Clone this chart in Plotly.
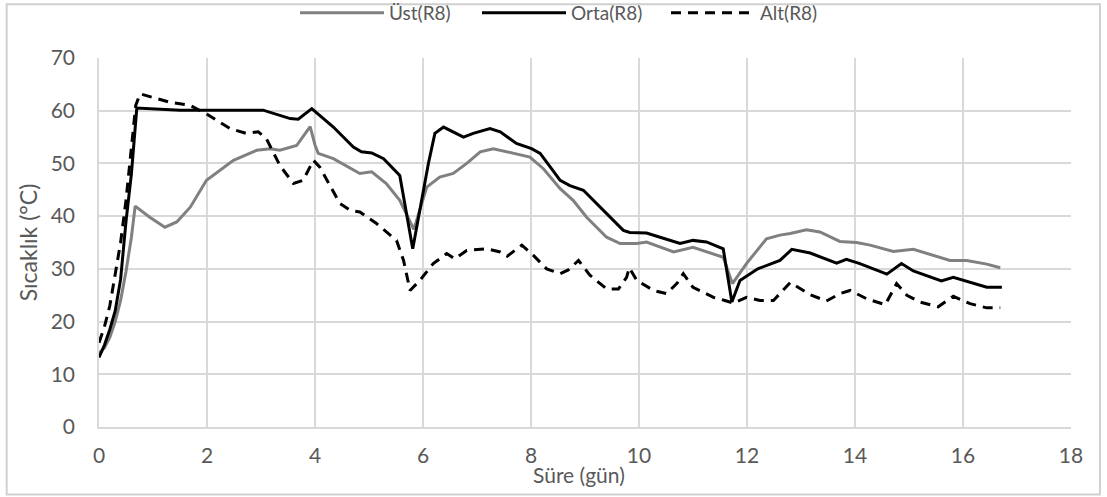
import plotly.graph_objects as go

# ---- data ----
ust_x = [0, 0.1, 0.2, 0.3, 0.4, 0.5, 0.6, 0.67, 0.94, 1.22, 1.44, 1.69, 1.99, 2.49, 2.92, 3.17, 3.35, 3.66, 3.91, 4.0,
         4.06, 4.34, 4.83, 5.05, 5.32, 5.57, 5.83, 6.07, 6.31, 6.56, 6.81, 7.06, 7.30, 7.67, 7.98, 8.23, 8.54,
         8.78, 9.03, 9.40, 9.65, 9.96, 10.14, 10.64, 11.0, 11.56, 11.73, 11.99, 12.36, 12.61, 12.80, 13.10, 13.35,
         13.72, 14.03, 14.28, 14.71, 15.08, 15.39, 15.76, 16.07, 16.44, 16.69]
ust_y = [14, 15, 17, 20, 24, 29.5, 36, 41.9, 39.8, 37.9, 38.9, 41.7, 46.8, 50.6, 52.5, 52.8, 52.5, 53.4, 57.0, 53.5,
         51.9, 50.9, 48.1, 48.4, 46.2, 43.0, 37.5, 45.5, 47.4, 48.1, 50.0, 52.2, 52.8, 51.9, 51.2, 49.0, 45.2,
         43.0, 39.8, 36.0, 34.8, 34.8, 35.1, 33.2, 34.1, 32.2, 27.2, 31.0, 35.7, 36.4, 36.7, 37.4, 37.0,
         35.2, 35.0, 34.5, 33.3, 33.7, 32.8, 31.6, 31.6, 30.9, 30.2]

orta_x = [0, 0.1, 0.2, 0.3, 0.4, 0.5, 0.6, 0.7, 1.5, 3.04, 3.54, 3.69, 3.94, 4.34, 4.71, 4.86, 5.05, 5.27, 5.57,
          5.81, 6.10, 6.22, 6.38, 6.75, 6.93, 7.24, 7.43, 7.73, 8.01, 8.17, 8.54, 8.72, 8.97, 9.28, 9.71, 9.83,
          10.14, 10.39, 10.76, 11.0, 11.25, 11.56, 11.72, 11.87, 12.2, 12.61, 12.83, 13.17, 13.66, 13.84, 14.09,
          14.59, 14.86, 15.08, 15.60, 15.82, 16.10, 16.44, 16.72]
orta_y = [13.2, 15.5, 18.5, 22, 28, 39, 48, 60.5, 60.1, 60.1, 58.5, 58.4, 60.4, 56.9, 53.1, 52.2, 52.0, 50.9, 47.7,
          33.8, 50.0, 55.7, 56.9, 55.0, 55.7, 56.6, 56.0, 53.8, 52.8, 51.9, 46.8, 45.8, 44.9, 41.7, 37.3, 36.9,
          36.8, 36.0, 34.8, 35.4, 35.1, 33.8, 23.7, 27.8, 30.0, 31.6, 33.7, 33.0, 31.1, 31.8, 31.0,
          29.0, 31.0, 29.6, 27.7, 28.4, 27.6, 26.5, 26.5]

alt_x = [0, 0.1, 0.2, 0.3, 0.4, 0.5, 0.6, 0.68, 0.76, 1.31, 1.69, 1.99, 2.43, 2.73, 2.95, 3.10, 3.35, 3.60, 3.78,
         3.97, 4.09, 4.46, 4.65, 4.83, 5.14, 5.51, 5.64, 5.76, 5.94, 6.19, 6.44, 6.59, 6.81, 7.18, 7.43, 7.56,
         7.83, 8.04, 8.29, 8.54, 8.69, 8.88, 9.09, 9.40, 9.62, 9.77, 9.82, 9.96, 10.27, 10.51, 10.70, 10.82,
         11.0, 11.38, 11.59, 11.75, 11.99, 12.24, 12.49, 12.80, 13.17, 13.47, 13.72, 13.91, 14.22, 14.56, 14.77,
         14.96, 15.20, 15.54, 15.82, 16.13, 16.44, 16.69]
alt_y = [16, 19, 23, 29, 35, 43, 53, 61, 63.2, 61.6, 61.0, 59.4, 56.6, 55.7, 56.0, 54.7, 49.6, 46.2, 46.8,
         50.6, 49.3, 42.4, 41.1, 40.8, 38.6, 35.4, 31.6, 25.9, 27.8, 31.0, 32.9, 31.9, 33.5, 33.8, 33.2, 32.4,
         34.5, 32.6, 30.0, 29.1, 29.8, 31.6, 28.8, 26.2, 26.2, 28.4, 30.2, 27.8, 25.9, 25.3, 27.2, 29.1,
         26.5, 24.6, 24.0, 23.5, 24.6, 24.0, 24.0, 27.4, 25.1, 23.9, 25.3, 25.9, 24.3, 23.2, 27.2,
         25.0, 23.7, 22.8, 24.8, 23.4, 22.6, 22.6]

names = ["Üst(R8)", "Orta(R8)", "Alt(R8)"]

FONT = "Lato"
TXT = "#595959"
GRID = "#d9d9d9"

fig = go.Figure()
fig.add_trace(go.Scatter(x=ust_x, y=ust_y, mode="lines", name=names[0], legend="legend", showlegend=True,
                         line=dict(color="#808080", width=3)))
fig.add_trace(go.Scatter(x=orta_x, y=orta_y, mode="lines", name=names[1], legend="legend2", showlegend=True,
                         line=dict(color="#000000", width=3)))
fig.add_trace(go.Scatter(x=alt_x, y=alt_y, mode="lines", name=names[2], legend="legend3", showlegend=True,
                         line=dict(color="#000000", width=3, dash="10px,7px")))

def leg(xpx):
    return dict(orientation="h", xref="container", yref="container",
                x=xpx / 1107, xanchor="left", y=1 - 13 / 497, yanchor="middle",
                itemwidth=84, font=dict(family=FONT, size=19, color=TXT), visible=True,
                bgcolor="rgba(0,0,0,0)", borderwidth=0, itemclick=False, itemdoubleclick=False)

fig.update_layout(
    width=1107, height=497,
    showlegend=True,
    margin=dict(l=99, r=36, t=57.7, b=70.4),
    paper_bgcolor="white", plot_bgcolor="white",
    font=dict(family=FONT, size=21, color=TXT),
    legend=leg(295), legend2=leg(477), legend3=leg(666),
    xaxis=dict(range=[0, 18], dtick=2, showgrid=True, gridcolor=GRID, gridwidth=1.5,
               zeroline=False, showline=True, linecolor=GRID, linewidth=1.5, ticks="",
               tickfont=dict(size=21, color=TXT), ticklabelstandoff=9, automargin=False),
    yaxis=dict(range=[0, 70], dtick=10, showgrid=True, gridcolor=GRID, gridwidth=1.5,
               zeroline=False, showline=True, linecolor=GRID, linewidth=1.5, ticks="",
               tickfont=dict(size=21, color=TXT), ticklabelstandoff=18, automargin=False,
               title=dict(text="Sıcaklık (°C)", standoff=7, font=dict(size=23, color=TXT))),
    annotations=[dict(text="Süre (gün)", xref="paper", yref="paper", x=0.494, y=-0.128,
                      xanchor="center", yanchor="middle", showarrow=False,
                      font=dict(family=FONT, size=21, color=TXT))],
    shapes=[dict(type="rect", xref="paper", yref="paper", x0=-0.095, x1=1.0298, y0=-0.1827, y1=1.1456,
                 layer="above", line=dict(color="#d0d0d0", width=2))],
)

fig.write_html("out.html", post_script="document.body.style.margin='0';",
               config={"displayModeBar": False})
